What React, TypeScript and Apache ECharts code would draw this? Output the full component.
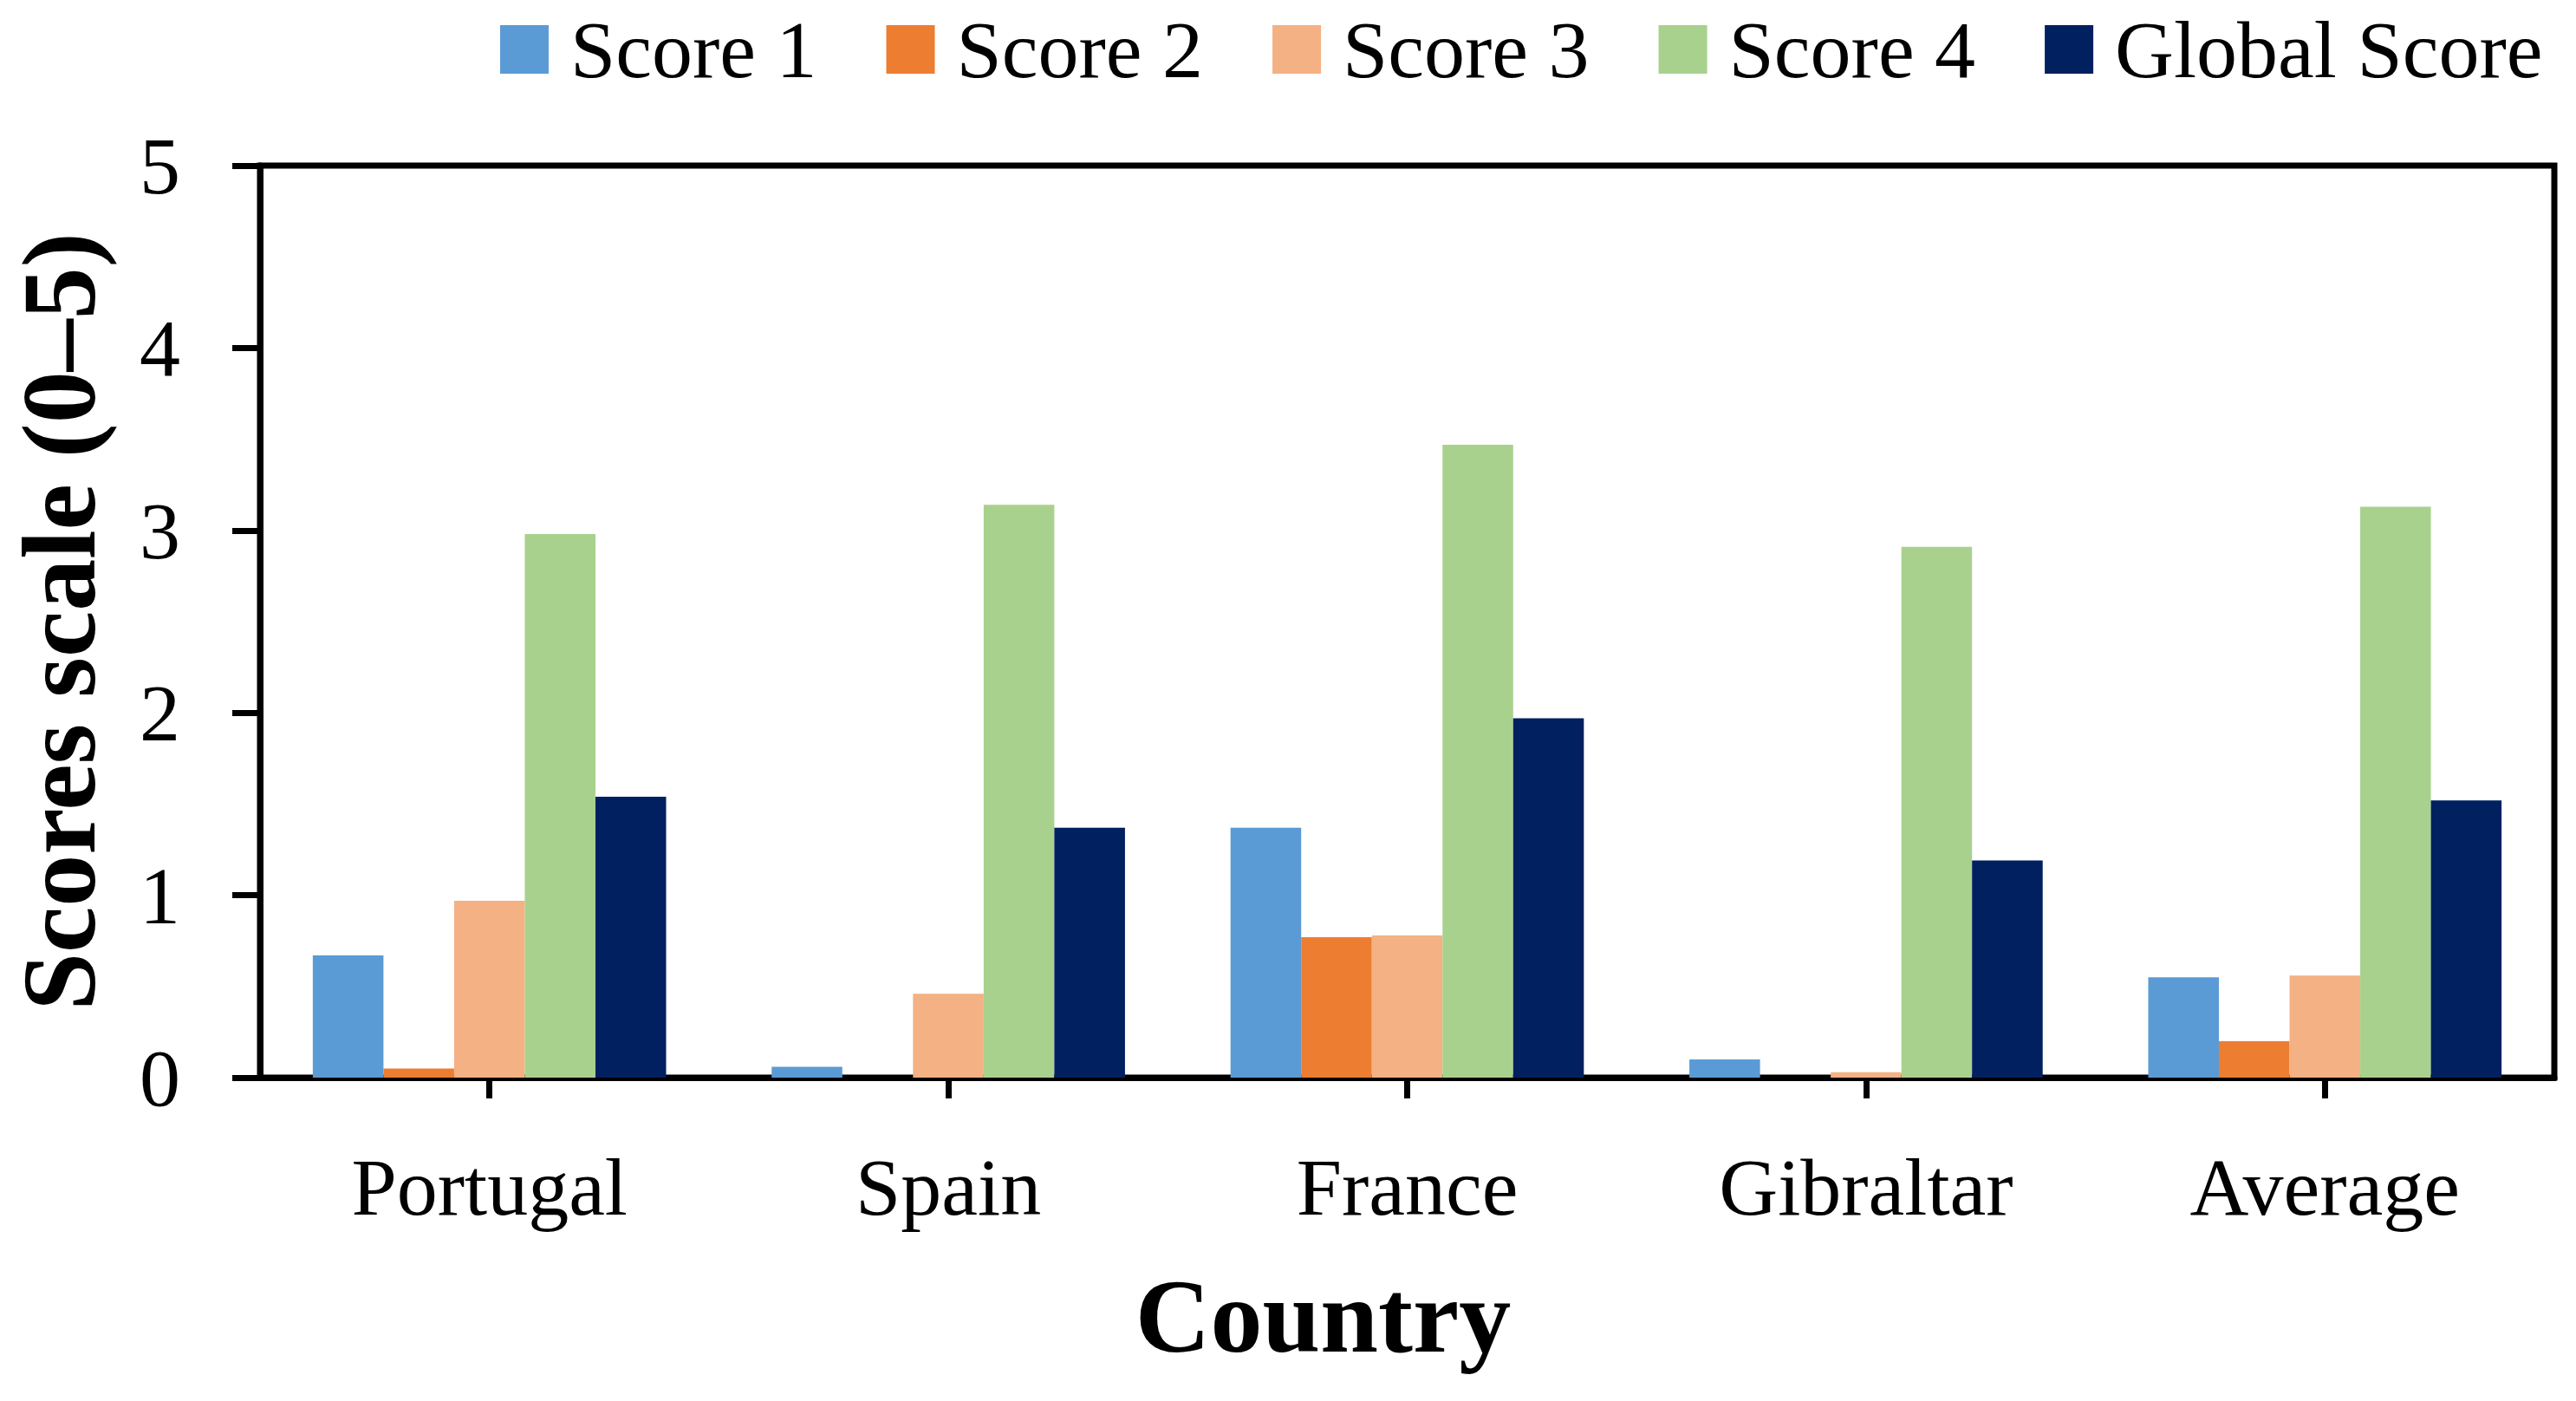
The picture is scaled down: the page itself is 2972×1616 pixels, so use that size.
import React, { useEffect, useRef } from "react";
import * as echarts from "echarts";

const categories = ["Portugal", "Spain", "France", "Gibraltar", "Average"];
const seriesNames = ["Score 1", "Score 2", "Score 3", "Score 4", "Global Score"];
const score1 = [0.67, 0.06, 1.37, 0.1, 0.55];
const score2 = [0.05, 0, 0.77, 0, 0.2];
const score3 = [0.97, 0.46, 0.78, 0.03, 0.56];
const score4 = [2.98, 3.14, 3.47, 2.91, 3.13];
const globalScore = [1.54, 1.37, 1.97, 1.19, 1.52];
const seriesValues = [score1, score2, score3, score4, globalScore];
const colors = ["#5B9BD5", "#ED7D31", "#F4B183", "#A9D18E", "#012060"];
const yTicks = { min: 0, max: 5, interval: 1 };

const FONT = "'Liberation Serif', serif";

export default function App() {
  const ref = useRef<HTMLDivElement>(null);
  useEffect(() => {
    if (!ref.current) return;
    const chart = echarts.init(ref.current, null, { renderer: "svg" });
    chart.setOption({
      animation: false,
      backgroundColor: "#ffffff",
      color: colors,
      textStyle: { fontFamily: FONT },
      legend: {
        left: 572,
        top: 5,
        itemWidth: 56,
        itemHeight: 56,
        itemGap: 80,
        icon: "rect",
        textStyle: {
          fontFamily: FONT,
          fontSize: 94,
          color: "#000",
          padding: [0, 0, 0, 20],
        },
        data: seriesNames,
      },
      grid: {
        left: 288,
        right: 25,
        top: 191,
        bottom: 373,
        show: true,
        borderColor: "#000",
        borderWidth: 7,
        containLabel: false,
      },
      xAxis: {
        type: "category",
        data: categories,
        name: "Country",
        nameLocation: "middle",
        nameGap: 215,
        nameTextStyle: {
          fontFamily: FONT,
          fontSize: 120,
          fontWeight: "bold",
          color: "#000",
          padding: [0, 194, 0, 0],
        },
        axisLine: { show: true, lineStyle: { color: "#000", width: 7 } },
        axisTick: {
          show: true,
          alignWithLabel: true,
          length: 24,
          lineStyle: { color: "#000", width: 7 },
        },
        axisLabel: {
          fontFamily: FONT,
          fontSize: 94,
          color: "#000",
          margin: 79,
        },
      },
      yAxis: {
        type: "value",
        min: yTicks.min,
        max: yTicks.max,
        interval: yTicks.interval,
        name: "Scores scale (0\u20135)",
        nameLocation: "middle",
        nameGap: 172,
        nameTextStyle: {
          fontFamily: FONT,
          fontSize: 120,
          fontWeight: "bold",
          color: "#000",
        },
        splitLine: { show: false },
        axisLine: { show: true, lineStyle: { color: "#000", width: 7 } },
        axisTick: {
          show: true,
          length: 32,
          lineStyle: { color: "#000", width: 7 },
        },
        axisLabel: {
          fontFamily: FONT,
          fontSize: 94,
          color: "#000",
          margin: 92,
        },
      },
      series: seriesNames.map((name, i) => ({
        name,
        type: "bar",
        data: seriesValues[i],
        barGap: "0%",
        barCategoryGap: "23%",
        itemStyle: { color: colors[i] },
      })),
    });
    return () => chart.dispose();
  }, []);
  return (
    <div
      ref={ref}
      style={{ position: "absolute", left: 0, top: 0, width: 2972, height: 1616 }}
    />
  );
}
